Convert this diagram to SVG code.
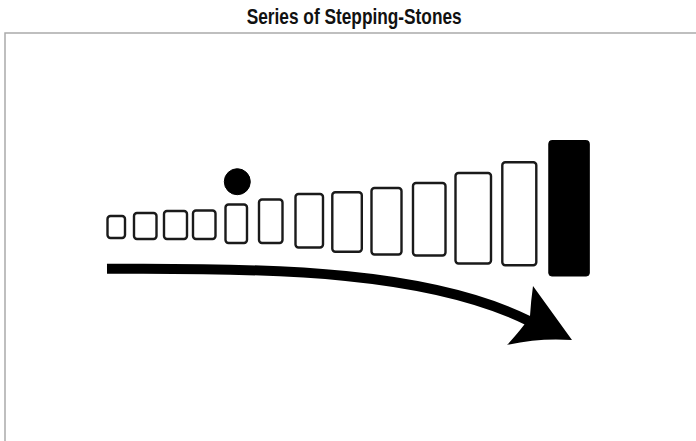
<svg xmlns="http://www.w3.org/2000/svg" width="696" height="441" viewBox="0 0 696 441">
<style>
.title{font-family:"Liberation Sans",Arial,sans-serif;font-weight:bold;font-size:22px;fill:#111}
.stone{fill:#fff;stroke:#1a1a1a;stroke-width:2.4}
.solid{fill:#000;stroke:#000;stroke-width:1}
.frame{fill:none;stroke:#aaa;stroke-width:1.5}
</style>
<rect width="696" height="441" fill="#fff"/>
<text class="title" x="354.2" y="24" text-anchor="middle" textLength="215" lengthAdjust="spacingAndGlyphs">Series of Stepping-Stones</text>
<rect class="frame" x="5" y="33" width="700" height="420"/>
<g id="stone1"><rect class="stone" x="107.5" y="216" width="17.5" height="22" rx="3"/></g>
<g id="stone2"><rect class="stone" x="134" y="213" width="22.5" height="26" rx="3"/></g>
<g id="stone3"><rect class="stone" x="164" y="211" width="23" height="28" rx="3"/></g>
<g id="stone4"><rect class="stone" x="193" y="210.5" width="22.5" height="28.5" rx="3"/></g>
<g id="ball"><circle class="solid" cx="237.3" cy="181.7" r="13"/></g>
<g id="stone5"><rect class="stone" x="225.5" y="204.5" width="21.5" height="38.5" rx="3"/></g>
<g id="stone6"><rect class="stone" x="259" y="199.5" width="23.5" height="43.5" rx="3"/></g>
<g id="stone7"><rect class="stone" x="295.5" y="194" width="27.5" height="53.5" rx="3"/></g>
<g id="stone8"><rect class="stone" x="332.3" y="192.3" width="29.5" height="59.5" rx="3"/></g>
<g id="stone9"><rect class="stone" x="371.5" y="188" width="30" height="66.5" rx="3"/></g>
<g id="stone10"><rect class="stone" x="413" y="183" width="32.5" height="72.5" rx="3"/></g>
<g id="stone11"><rect class="stone" x="455.5" y="173" width="35.5" height="90.5" rx="3"/></g>
<g id="stone12"><rect class="stone" x="502.3" y="162.3" width="34" height="103" rx="3"/></g>
<g id="goal"><rect class="solid" x="548.8" y="140.5" width="40.5" height="135.5" rx="3"/></g>
<g id="connectors">
<path d="M107,268.8 C280,267.5 430,272 529,321" fill="none" stroke="#000" stroke-width="10"/>
<path d="M533,286 L572,340 Q540,337.5 507,345 Q518,333 524,325 L530,316 Q531,300 533,286 Z" fill="#000"/>
</g>
</svg>
